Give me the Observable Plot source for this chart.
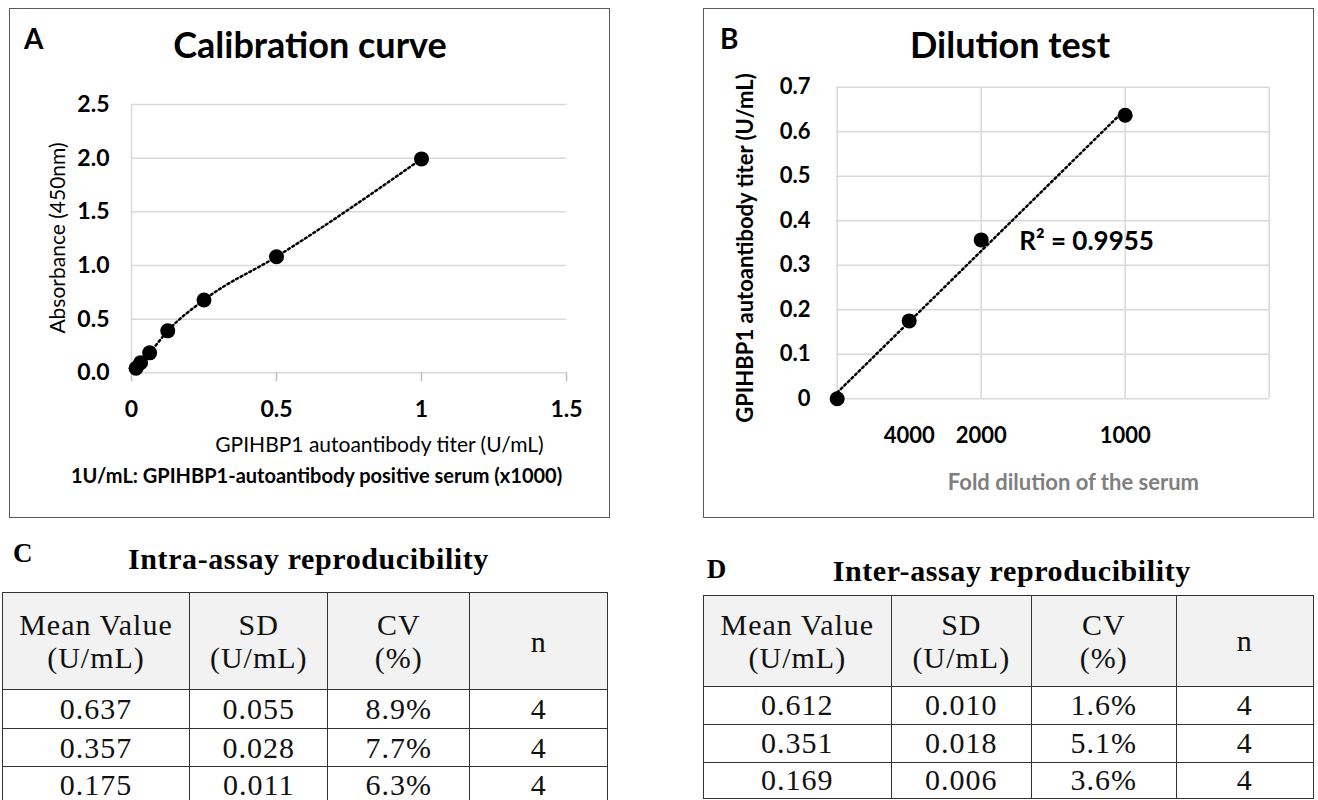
<!DOCTYPE html>
<html>
<head>
<meta charset="utf-8">
<script src="https://cdn.jsdelivr.net/npm/d3@7"></script>
<script src="https://cdn.jsdelivr.net/npm/@observablehq/plot@0.6"></script>
<style>
  html, body { margin: 0; padding: 0; }
  body { width: 1318px; height: 800px; overflow: hidden; background: #fff; position: relative; font-family: Lato, sans-serif; color: #000; }
  .abs { position: absolute; white-space: nowrap; line-height: 1; }
  .panel { position: absolute; border: 1.5px solid #5a5a5a; box-sizing: border-box; }
  .plot { position: absolute; }
  table.tbl { position: absolute; border-collapse: collapse; table-layout: fixed; font-family: "Liberation Serif", serif; font-size: 30px; letter-spacing: 1px; color: #111; }
  table.tbl td, table.tbl th { border: 1.6px solid #333; text-align: center; vertical-align: middle; padding: 0; font-weight: normal; }
  table.tbl th { background: #f2f2f2; line-height: 33px; }
  table.tbl td { line-height: 1; }
</style>
</head>
<body>
<script>
// ---------- Panel A: calibration curve ----------
const titerA = [0.015625, 0.03125, 0.0625, 0.125, 0.25, 0.5, 1];
const absorbanceA = [0.043, 0.093, 0.186, 0.391, 0.679, 1.082, 1.993];
const yTicksA = [0, 0.5, 1.0, 1.5, 2.0, 2.5];
const xTicksA = [0, 0.5, 1, 1.5];

// ---------- Panel B: dilution test ----------
const relConcB = [0, 0.25, 0.5, 1];          // 1000 / fold dilution
const titerB = [0, 0.175, 0.357, 0.637];
const xTicksB = [0.25, 0.5, 1];
const xTickLabelsB = ["4000", "2000", "1000"];
const xGridB = [0, 0.5, 1, 1.5];
const yTicksB = [0, 0.1, 0.2, 0.3, 0.4, 0.5, 0.6, 0.7];
const r2Label = "R\u00B2 = 0.9955";

// ---------- Tables ----------
const tableHeader = [["Mean Value", "(U/mL)"], ["SD", "(U/mL)"], ["CV", "(%)"], ["n"]];
const intraMean = ["0.637", "0.357", "0.175"];
const intraSD = ["0.055", "0.028", "0.011"];
const intraCV = ["8.9%", "7.7%", "6.3%"];
const intraN = ["4", "4", "4"];
const interMean = ["0.612", "0.351", "0.169"];
const interSD = ["0.010", "0.018", "0.006"];
const interCV = ["1.6%", "5.1%", "3.6%"];
const interN = ["4", "4", "4"];

const body = d3.select("body");
function addText(txt, css) {
  const el = body.append("div").attr("class", "abs").text(txt);
  for (const k in css) el.style(k, css[k]);
  return el;
}

// Panel frames
body.append("div").attr("class", "panel").style("left", "9px").style("top", "8px").style("width", "601px").style("height", "510px");
body.append("div").attr("class", "panel").style("left", "703px").style("top", "8px").style("width", "611px").style("height", "510px");

const dotted = {stroke: "black", strokeWidth: 2.5, strokeDasharray: "2,3"};

// ----- Plot A -----
const dataA = titerA.map((x, i) => ({x, y: absorbanceA[i]}));
const plotA = Plot.plot({
  width: 600, height: 470,
  marginLeft: 122, marginRight: 43, marginTop: 95, marginBottom: 106.7,
  x: {domain: [0, 1.5]},
  y: {domain: [0, 2.5]},
  style: {fontFamily: "Lato, sans-serif", fontSize: "23px", fontWeight: "bold", color: "black", background: "transparent", overflow: "visible"},
  marks: [
    Plot.gridY(yTicksA, {stroke: "#d9d9d9", strokeOpacity: 1, strokeWidth: 1.5}),
    Plot.ruleX([0], {stroke: "#d9d9d9", strokeWidth: 1.5}),
    Plot.axisY(yTicksA, {tickSize: 0, tickPadding: 22, tickFormat: d3.format(".1f"), label: null}),
    Plot.axisX(xTicksA, {tickSize: 9, tickPadding: 18.7, stroke: "#bfbfbf", strokeWidth: 1.5, fill: "black", tickFormat: d => String(d), label: null}),
    Plot.line(dataA, {x: "x", y: "y", ...dotted, curve: "monotone-x"}),
    Plot.dot(dataA, {x: "x", y: "y", r: 7.5, fill: "black"})
  ]
});
d3.select(plotA).attr("class", "plot").style("left", "9px").style("top", "9px");
body.node().appendChild(plotA);

addText("A", {left: "24px", top: "23.5px", "font-size": "28px", "font-weight": "bold"});
addText("Calibration curve", {left: "10px", width: "600px", "text-align": "center", top: "26.4px", "font-size": "36px", "font-weight": "bold"});
addText("Absorbance (450nm)", {left: "56.4px", top: "238px", "font-size": "21px", transform: "translate(-50%,-50%) rotate(-90deg)"});
addText("GPIHBP1 autoantibody titer (U/mL)", {left: "379.5px", top: "433px", "font-size": "21px", transform: "translateX(-50%)"});
addText("1U/mL: GPIHBP1-autoantibody positive serum (x1000)", {left: "316.6px", top: "465.3px", "font-size": "20px", "font-weight": "bold", transform: "translateX(-50%)"});

// ----- Plot B -----
const dataB = relConcB.map((x, i) => ({x, y: titerB[i]}));
const tickLabelB = new Map(xTicksB.map((d, i) => [d, xTickLabelsB[i]]));
const plotB = Plot.plot({
  width: 612, height: 470,
  marginLeft: 133.7, marginRight: 46.3, marginTop: 77.7, marginBottom: 80.7,
  x: {domain: [0, 1.5]},
  y: {domain: [0, 0.7]},
  style: {fontFamily: "Lato, sans-serif", fontSize: "22px", fontWeight: "bold", color: "black", background: "transparent", overflow: "visible"},
  marks: [
    Plot.gridY(yTicksB, {stroke: "#d9d9d9", strokeOpacity: 1, strokeWidth: 1.5}),
    Plot.gridX(xGridB, {stroke: "#d9d9d9", strokeOpacity: 1, strokeWidth: 1.5}),
    Plot.axisY(yTicksB, {tickSize: 0, tickPadding: 26.7, tickFormat: d => String(d), label: null}),
    Plot.axisX(xTicksB, {tickSize: 0, tickPadding: 28.4, tickFormat: d => tickLabelB.get(d), label: null}),
    Plot.linearRegressionY(dataB, {x: "x", y: "y", ...dotted, ci: 0}),
    Plot.dot(dataB, {x: "x", y: "y", r: 7.5, fill: "black"}),
    Plot.text([dataB[2]], {x: "x", y: "y", text: () => r2Label, dx: 38, dy: 2, textAnchor: "start", fontSize: 26, fontWeight: "bold"})
  ]
});
d3.select(plotB).attr("class", "plot").style("left", "703px").style("top", "9px");
body.node().appendChild(plotB);

addText("B", {left: "720px", top: "23.5px", "font-size": "28px", "font-weight": "bold"});
addText("Dilution test", {left: "1010px", top: "26.4px", "font-size": "36px", "font-weight": "bold", transform: "translateX(-50%)"});
addText("GPIHBP1 autoantibody titer (U/mL)", {left: "745px", top: "248px", "font-size": "22px", "font-weight": "bold", transform: "translate(-50%,-50%) rotate(-90deg)"});
addText("Fold dilution of the serum", {left: "1073.4px", top: "470.5px", "font-size": "22px", "font-weight": "bold", color: "#7f7f7f", transform: "translateX(-50%)"});

// ----- Tables -----
function buildTable(cfg) {
  const t = body.append("table").attr("class", "tbl").style("left", cfg.left + "px").style("top", cfg.top + "px");
  const cg = t.append("colgroup");
  cfg.colW.forEach(w => cg.append("col").style("width", w + "px"));
  const hr = t.append("tr").style("height", cfg.headH + "px");
  tableHeader.forEach(lines => {
    const th = hr.append("th");
    lines.forEach((ln, j) => { if (j) th.append("br"); th.append("span").text(ln); });
  });
  cfg.cols[0].forEach((_, r) => {
    const tr = t.append("tr").style("height", cfg.rowH[r] + "px");
    cfg.cols.forEach(col => tr.append("td").text(col[r]));
  });
  const total = cfg.colW.reduce((a, b) => a + b, 0);
  t.style("width", total + "px");
}

addText("C", {left: "13px", top: "540px", "font-size": "27px", "font-weight": "bold", "font-family": "'Liberation Serif', serif"});
addText("Intra-assay reproducibility", {left: "128px", top: "544px", "font-size": "30px", "font-weight": "bold", "letter-spacing": "0.6px", "font-family": "'Liberation Serif', serif"});
buildTable({left: 1.7, top: 592.3, colW: [187.6, 138, 142, 138], headH: 97, rowH: [39, 37.5, 38],
  cols: [intraMean, intraSD, intraCV, intraN]});

addText("D", {left: "706.7px", top: "556px", "font-size": "27px", "font-weight": "bold", "font-family": "'Liberation Serif', serif"});
addText("Inter-assay reproducibility", {left: "832.7px", top: "556px", "font-size": "30px", "font-weight": "bold", "letter-spacing": "0.6px", "font-family": "'Liberation Serif', serif"});
buildTable({left: 702.7, top: 595, colW: [188.3, 139.7, 145.3, 136.7], headH: 90.7, rowH: [38.6, 37.4, 36.6],
  cols: [interMean, interSD, interCV, interN]});
</script>
</body>
</html>
